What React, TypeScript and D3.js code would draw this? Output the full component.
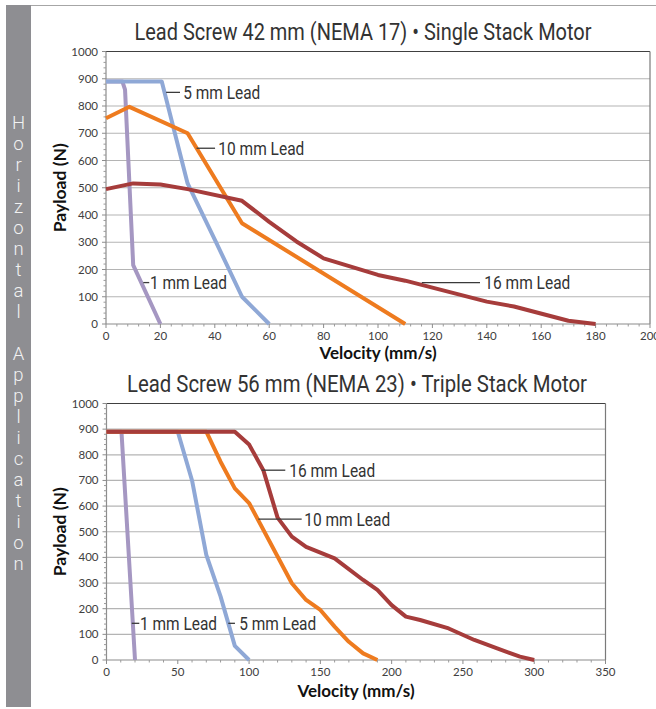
import React from 'react';
import * as d3 from 'd3';

type Pt = [number, number];

// ---------- text ----------
const sidebarText = 'Horizontal Application';
const topTitle = 'Lead Screw 42 mm (NEMA 17) • Single Stack Motor';
const bottomTitle = 'Lead Screw 56 mm (NEMA 23) • Triple Stack Motor';
const yAxisTitle = 'Payload (N)';
const xAxisTitle = 'Velocity (mm/s)';

// ---------- ticks ----------
const yTicks = [0, 100, 200, 300, 400, 500, 600, 700, 800, 900, 1000];
const topXTicks = [0, 20, 40, 60, 80, 100, 120, 140, 160, 180, 200];
const bottomXTicks = [0, 50, 100, 150, 200, 250, 300, 350];

// ---------- series ----------
const seriesNames = ['1 mm Lead', '5 mm Lead', '10 mm Lead', '16 mm Lead'];
const seriesColors = ['#a597c2', '#8fa8d6', '#ee7b1f', '#a63c3b'];

// Top chart: NEMA 17 single stack  [velocity mm/s, payload N]
const top1mm: Pt[] = [[0, 890], [6, 890], [7, 860], [10, 216], [20, 0]];
const top5mm: Pt[] = [[0, 890], [20.5, 890], [30, 516], [40, 310], [50, 100], [60, 0]];
const top10mm: Pt[] = [[0, 755], [8.6, 797], [30, 700], [50, 370], [110, 0]];
const top16mm: Pt[] = [[0, 495], [10, 516], [20, 512], [30, 495], [50, 452], [60, 375], [70, 303], [80, 241], [100, 180], [110, 159], [140, 82], [150, 64], [170, 12], [180, 0]];

// Bottom chart: NEMA 23 triple stack
const bot1mm: Pt[] = [[0, 890], [10.5, 890], [20, 0]];
const bot5mm: Pt[] = [[0, 890], [50, 890], [60, 700], [70, 410], [80, 248], [90, 55], [100, 0]];
const bot10mm: Pt[] = [[0, 890], [70, 890], [80, 773], [90, 669], [100, 612], [130, 299], [140, 234], [150, 195], [160, 130], [170, 71], [180, 26], [190, 0]];
const bot16mm: Pt[] = [[0, 890], [90, 890], [100, 840], [110, 740], [120, 555], [130, 481], [140, 441], [160, 396], [180, 312], [190, 273], [200, 214], [210, 169], [220, 156], [240, 123], [258, 78], [274, 45], [290, 13], [300, 0]];

// ---------- callouts: [label, leaderStartV, leaderEndV, payload, textV] ----------
const topCallouts: [string, number, number, number, number][] = [
  ['5 mm Lead', 22.1, 27.2, 850, 28.4],
  ['10 mm Lead', 33.3, 40.1, 645, 41.3],
  ['1 mm Lead', 13.7, 15.9, 152, 16.2],
  ['16 mm Lead', 116.1, 137.5, 152, 139.1],
];
const bottomCallouts: [string, number, number, number, number][] = [
  ['16 mm Lead', 108.8, 125.4, 740, 128.2],
  ['10 mm Lead', 106.5, 136.9, 549, 138.7],
  ['1 mm Lead', 17.7, 23, 143, 23.5],
  ['5 mm Lead', 85.4, 90.1, 143, 93.1],
];

const NARROW = 'Roboto, "Liberation Sans", sans-serif';
const LABEL = 'Lato, Carlito, Calibri, "Liberation Sans", sans-serif';
const calloutWidth = (t: string) => (t.length > 9 ? 86 : 77);

interface ChartCfg {
  title: string;
  titleX: number;
  titleY: number;
  titleW: number;
  xMax: number;
  xTicks: number[];
  xMinor: number;
  x0: number; x1: number;
  y0: number; y1: number;
  series: Pt[][];
  callouts: [string, number, number, number, number][];
  xTitleX: number;
  xTitleY: number;
  yTitleX: number;
}

function Chart({ cfg }: { cfg: ChartCfg }) {
  const x = d3.scaleLinear().domain([0, cfg.xMax]).range([cfg.x0, cfg.x1]);
  const y = d3.scaleLinear().domain([0, 1000]).range([cfg.y0, cfg.y1]);
  const line = d3.line<Pt>().x(d => x(d[0])).y(d => y(d[1]));
  const xMinor = d3.range(0, cfg.xMax + 0.001, cfg.xMinor).filter(v => !cfg.xTicks.includes(v));
  const yMinor = d3.range(0, 1000.001, 20).filter(v => !yTicks.includes(v));
  const yMid = (cfg.y0 + cfg.y1) / 2;
  return (
    <g>
      <text x={cfg.titleX - cfg.titleW / 2} y={cfg.titleY} textLength={cfg.titleW} lengthAdjust="spacingAndGlyphs" fontFamily={NARROW} fontSize={24} fill="#333">
        {cfg.title}
      </text>
      {/* gridlines */}
      {yTicks.filter(v => v > 0 && v < 1000).map(v => (
        <line key={'g' + v} x1={cfg.x0} x2={cfg.x1} y1={y(v)} y2={y(v)} stroke="#b4b4b4" strokeWidth={1.2} />
      ))}
      {/* plot border top / right */}
      <line x1={cfg.x0} x2={cfg.x1} y1={y(1000)} y2={y(1000)} stroke="#404040" strokeWidth={1.2} />
      <line x1={cfg.x1} x2={cfg.x1} y1={y(1000)} y2={y(0)} stroke="#7a7a7a" strokeWidth={1.2} />
      {/* axes */}
      <line x1={cfg.x0} x2={cfg.x0} y1={y(1000)} y2={y(0)} stroke="#8c8c8c" strokeWidth={1.2} />
      <line x1={cfg.x0} x2={cfg.x1} y1={y(0)} y2={y(0)} stroke="#8c8c8c" strokeWidth={1.2} />
      {yTicks.map(v => (
        <line key={'yt' + v} x1={cfg.x0 - 4} x2={cfg.x0} y1={y(v)} y2={y(v)} stroke="#8c8c8c" />
      ))}
      {yMinor.map(v => (
        <line key={'ym' + v} x1={cfg.x0 - 2.5} x2={cfg.x0} y1={y(v)} y2={y(v)} stroke="#9a9a9a" />
      ))}
      {cfg.xTicks.map(v => (
        <line key={'xt' + v} x1={x(v)} x2={x(v)} y1={y(0)} y2={y(0) + 4} stroke="#8c8c8c" />
      ))}
      {xMinor.map(v => (
        <line key={'xm' + v} x1={x(v)} x2={x(v)} y1={y(0)} y2={y(0) + 2.5} stroke="#9a9a9a" />
      ))}
      {yTicks.map(v => (
        <text key={'yl' + v} x={cfg.x0 - 8} y={y(v)} dy="0.35em" textAnchor="end" fontFamily={LABEL} fontSize={11.5} fill="#404040">
          {v}
        </text>
      ))}
      {cfg.xTicks.map(v => (
        <text key={'xl' + v} x={x(v)} y={y(0) + 16} textAnchor="middle" fontFamily={LABEL} fontSize={11.5} fill="#404040">
          {v}
        </text>
      ))}
      <text x={cfg.xTitleX} y={cfg.xTitleY} textAnchor="middle" fontFamily={LABEL} fontWeight="bold" fontSize={17} fill="#111">
        {xAxisTitle}
      </text>
      <text transform={`translate(${cfg.yTitleX},${yMid}) rotate(-90)`} textAnchor="middle" dy="0.35em" fontFamily={LABEL} fontWeight="bold" fontSize={17.5} fill="#111">
        {yAxisTitle}
      </text>
      {/* series */}
      {cfg.series.map((s, i) => (
        <path key={seriesNames[i]} d={line(s) || ''} fill="none" stroke={seriesColors[i]} strokeWidth={4} strokeLinejoin="round" strokeLinecap="butt" />
      ))}
      {/* callouts */}
      {cfg.callouts.map(([t, a, b, p, tv]) => (
        <g key={t}>
          <line x1={x(a)} x2={x(b)} y1={y(p)} y2={y(p)} stroke="#3a3a3a" strokeWidth={1.3} />
          <text x={x(tv)} y={y(p)} dy="0.36em" textLength={calloutWidth(t)} lengthAdjust="spacingAndGlyphs" fontFamily={NARROW} fontSize={19} fill="#333">
            {t}
          </text>
        </g>
      ))}
    </g>
  );
}

export default function App() {
  const topCfg: ChartCfg = {
    title: topTitle, titleX: 363, titleY: 39.5, titleW: 457,
    xMax: 200, xTicks: topXTicks, xMinor: 4,
    x0: 106, x1: 650, y0: 324, y1: 51.5,
    series: [top1mm, top5mm, top10mm, top16mm],
    callouts: topCallouts,
    xTitleX: 378, xTitleY: 359, yTitleX: 60,
  };
  const botCfg: ChartCfg = {
    title: bottomTitle, titleX: 357, titleY: 391.5, titleW: 460,
    xMax: 350, xTicks: bottomXTicks, xMinor: 10,
    x0: 106.5, x1: 605.5, y0: 660, y1: 403.5,
    series: [bot1mm, bot5mm, bot10mm, bot16mm],
    callouts: bottomCallouts,
    xTitleX: 356, xTitleY: 697, yTitleX: 60,
  };
  const letters = sidebarText.split('');
  return (
    <svg width={656} height={709} style={{ position: 'absolute', left: 0, top: 0, background: '#fff' }}>
      <rect x={0} y={0} width={656} height={709} fill="#fff" />
      <line x1={31} x2={656} y1={5.5} y2={5.5} stroke="#a6a6a6" strokeWidth={1} />
      <rect x={6} y={5} width={25} height={702} fill="#8e8e92" />
      {letters.map((c, i) => (
        <text key={i} x={18.5} y={129 + i * 21} textAnchor="middle" fontFamily={NARROW} fontWeight={300} fontSize={18.5} fill="#f2f2f2">
          {c}
        </text>
      ))}
      <Chart cfg={topCfg} />
      <Chart cfg={botCfg} />
    </svg>
  );
}
